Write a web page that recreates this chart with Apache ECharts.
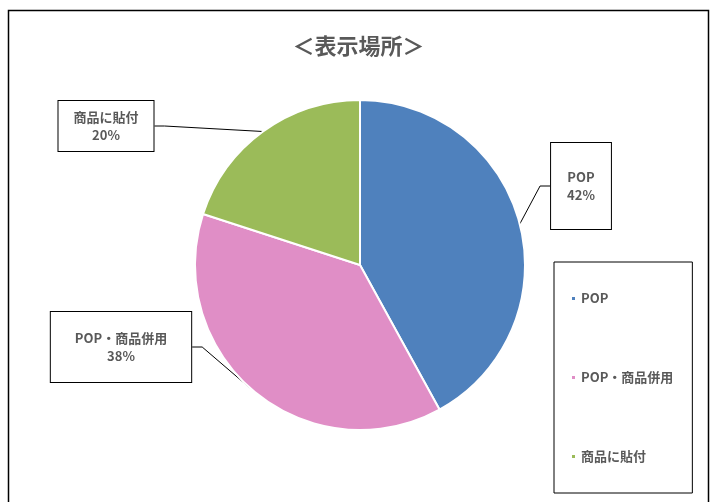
<!DOCTYPE html>
<html>
<head>
<meta charset="utf-8">
<script src="https://cdn.jsdelivr.net/npm/echarts@6/dist/echarts.min.js"></script>
<style>
  html, body { margin: 0; padding: 0; background: #fff; }
  #chart { width: 717px; height: 502px; }
</style>
</head>
<body>
<div id="chart"></div>
<script>
// 表示場所の割合
var categories = ['POP', 'POP・商品併用', '商品に貼付']
var values = [42, 38, 20]
var colors = ['#4F81BD', '#E08EC6', '#9BBB59']

// ラベル枠の位置とパディング
var labelPos = [
  { x: 581, y: 186, padding: [25, 16, 25, 16] },
  { x: 121, y: 347, padding: [17, 24, 17, 24] },
  { x: 106, y: 126, padding: [7, 15, 7, 15] }
]

var textColor = '#595959'
var font = '"Noto Sans CJK JP", sans-serif'

var chart = echarts.init(document.getElementById('chart'), null, { renderer: 'canvas' })

var seriesData = categories.map(function (name, i) {
  return {
    name: name,
    value: values[i],
    itemStyle: { color: colors[i] },
    label: { padding: labelPos[i].padding }
  }
})

chart.setOption({
  animation: false,
  backgroundColor: '#fff',
  title: {
    text: '＜表示場所＞',
    left: 'center',
    top: 30,
    textStyle: { fontFamily: font, fontSize: 22, fontWeight: 'bold', color: textColor }
  },
  graphic: [{
    type: 'rect',
    shape: { x: 8.5, y: 10.5, width: 700, height: 520 },
    style: { fill: 'none', stroke: '#000', lineWidth: 1.5 },
    silent: true
  }],
  legend: {
    orient: 'vertical',
    left: 554,
    top: 262,
    icon: 'rect',
    itemWidth: 5,
    itemHeight: 5,
    itemGap: 66,
    padding: [30, 19, 30, 16],
    borderColor: '#000',
    borderWidth: 1,
    backgroundColor: '#fff',
    data: categories,
    textStyle: { fontFamily: font, fontSize: 13, fontWeight: 'bold', color: textColor }
  },
  series: [{
    type: 'pie',
    center: [360, 265],
    radius: [0, 165],
    startAngle: 90,
    clockwise: true,
    itemStyle: { borderColor: '#fff', borderWidth: 2 },
    label: {
      show: true,
      formatter: '{b}\n{d}%',
      fontFamily: font,
      fontSize: 13,
      fontWeight: 'bold',
      lineHeight: 18,
      color: textColor,
      align: 'center',
      backgroundColor: '#fff',
      borderColor: '#000',
      borderWidth: 1
    },
    labelLine: {
      show: true,
      length: 10,
      length2: 10,
      lineStyle: { color: '#000', width: 1 }
    },
    labelLayout: function (params) {
      var p = labelPos[params.dataIndex]
      return { x: p.x, y: p.y, align: 'center', verticalAlign: 'middle' }
    },
    data: seriesData
  }]
})
</script>
</body>
</html>
